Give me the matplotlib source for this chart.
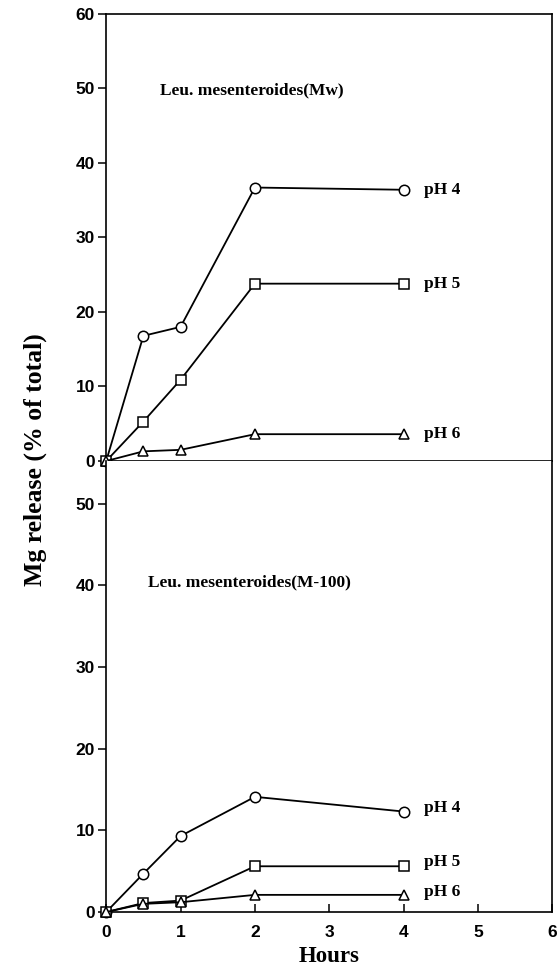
import matplotlib
matplotlib.use("Agg")
import matplotlib.pyplot as plt

hours = [0, 0.5, 1, 2, 4]

# top panel: Leu. mesenteroides(Mw)
mw_ph4 = [0, 16.8, 18.0, 36.7, 36.4]
mw_ph5 = [0, 5.3, 10.9, 23.8, 23.8]
mw_ph6 = [0, 1.3, 1.5, 3.6, 3.6]

# bottom panel: Leu. mesenteroides(M-100)
m100_ph4 = [0, 4.7, 9.3, 14.1, 12.3]
m100_ph5 = [0, 1.1, 1.4, 5.6, 5.6]
m100_ph6 = [0, 1.0, 1.2, 2.1, 2.1]

ph_labels = ["pH 4", "pH 5", "pH 6"]
markers = ["o", "s", "^"]
x_ticks = [0, 1, 2, 3, 4, 5, 6]

serif = "Liberation Serif"
sans = "Liberation Sans"

fig = plt.figure(figsize=(5.59, 9.72), dpi=100)
ax_top = fig.add_axes([0.19, 0.5257, 0.798, 0.46])
ax_bot = fig.add_axes([0.19, 0.0617, 0.798, 0.464])


def style_ticklabels(ax):
    for lbl in ax.get_xticklabels() + ax.get_yticklabels():
        lbl.set_fontfamily(sans)
        lbl.set_fontweight("bold")


def draw_panel(ax, series, title, title_xy, label_offsets):
    for vals, mk, lab, dy in zip(series, markers, ph_labels, label_offsets):
        ax.plot(hours, vals, color="black", lw=1.3, marker=mk, ms=7.5 if mk == "o" else 7,
                mfc="white", mec="black", mew=1.1, clip_on=False, zorder=3)
        ax.text(4.27, vals[-1] + dy, lab, fontfamily=serif, fontweight="bold",
                fontsize=12.5, va="center", ha="left")
    ax.text(title_xy[0], title_xy[1], title, fontfamily=serif, fontweight="bold",
            fontsize=12.5, va="center", ha="left")
    ax.set_xlim(0, 6)
    for sp in ax.spines.values():
        sp.set_linewidth(1.2)
    ax.tick_params(axis="y", direction="out", length=6, width=1.1, labelsize=12.5, pad=2)


draw_panel(ax_top, [mw_ph4, mw_ph5, mw_ph6], "Leu. mesenteroides(Mw)", (0.72, 49.8),
           [0, 0, 0])
ax_top.set_ylim(0, 60)
ax_top.set_yticks(range(0, 61, 10))
ax_top.set_xticks([])
style_ticklabels(ax_top)

draw_panel(ax_bot, [m100_ph4, m100_ph5, m100_ph6], "Leu. mesenteroides(M-100)", (0.56, 40.4),
           [0.4, 0.5, 0.3])
ax_bot.set_ylim(0, 55.2)
ax_bot.set_yticks(range(0, 51, 10))
ax_bot.spines["top"].set_visible(False)
ax_bot.set_xticks(x_ticks)
ax_bot.tick_params(axis="x", direction="in", length=6, width=1.1, labelsize=12.5, pad=9)
style_ticklabels(ax_bot)

ax_bot.set_xlabel("Hours", fontfamily=serif, fontweight="bold", fontsize=16.5, labelpad=5)
fig.text(0.063, 0.527, "Mg release (% of total)", rotation=90, fontfamily=serif,
         fontweight="bold", fontsize=18.5, ha="center", va="center")

fig.savefig("out.png", dpi=100)
